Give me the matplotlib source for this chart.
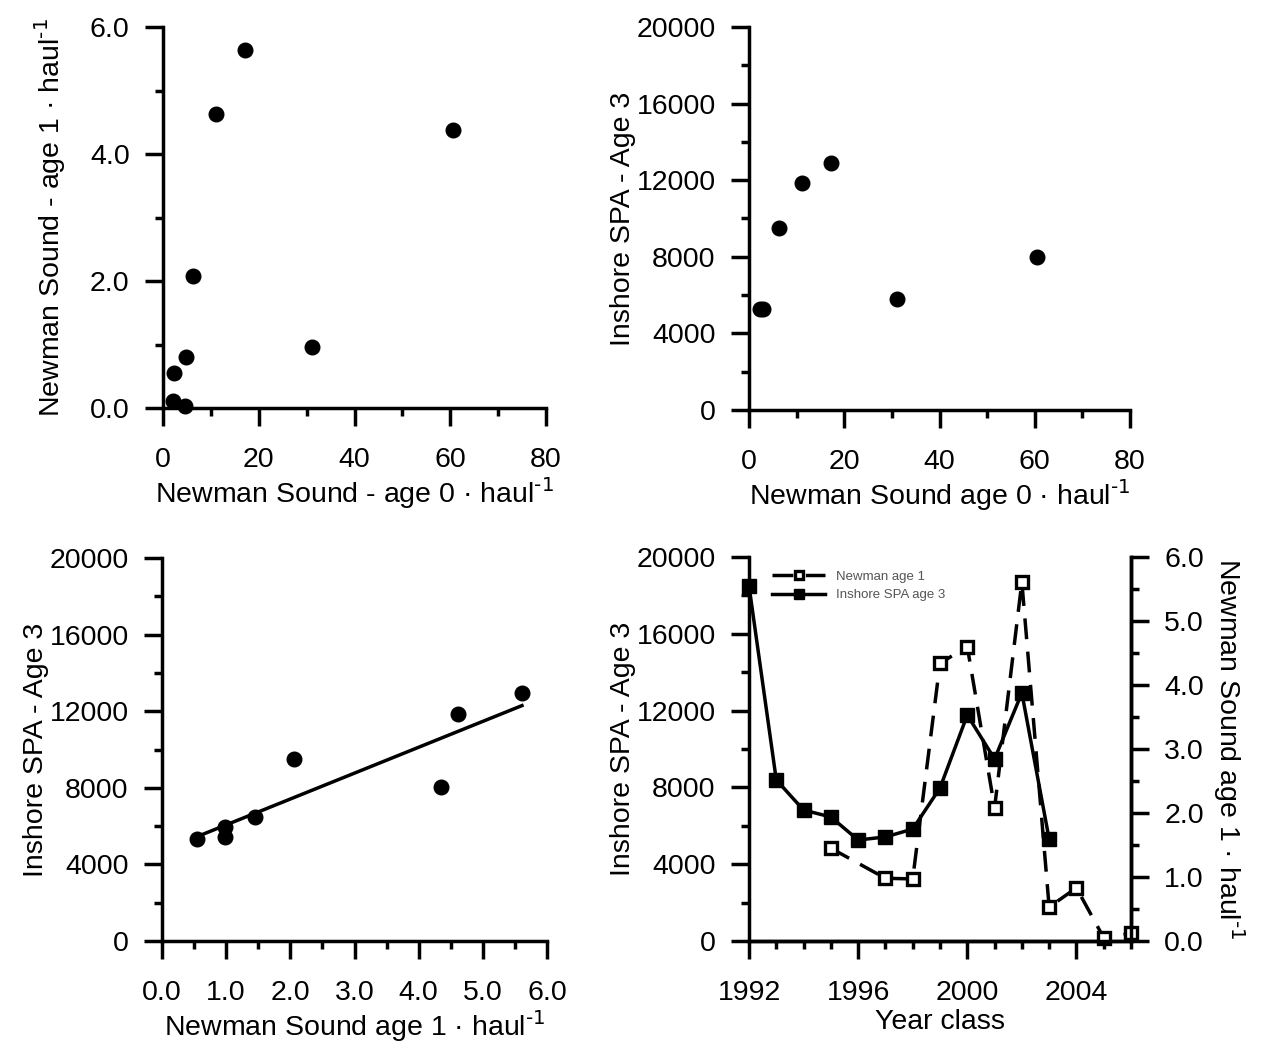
import matplotlib
matplotlib.use('Agg')
import matplotlib.pyplot as plt
import numpy as np
from matplotlib.ticker import MultipleLocator, FormatStrFormatter

plt.rcParams['font.family'] = ['Liberation Sans', 'DejaVu Sans']
plt.rcParams['mathtext.default'] = 'regular'

# 左上：age 0 与 age 1
p1_age0 = [17.1, 11.1, 60.5, 6.3, 31.1, 4.8, 2.3, 2.1, 4.6]
p1_age1 = [5.64, 4.63, 4.38, 2.08, 0.96, 0.80, 0.55, 0.11, 0.03]

# 右上：age 0 与 SPA age 3
p2_age0 = [2.3, 3.0, 6.3, 11.1, 17.2, 31.1, 60.5]
p2_spa = [5270, 5270, 9500, 11850, 12900, 5800, 7990]

# 左下：age 1 与 SPA age 3
p3_age1 = [0.55, 0.98, 0.98, 1.45, 2.06, 4.35, 4.61, 5.61]
p3_spa = [5310, 5940, 5420, 6460, 9530, 8020, 11870, 12970]

# 右下：时间序列
spa_years = list(range(1992, 2004))
spa_age3 = [18500, 8390, 6820, 6460, 5260, 5420, 5830, 7970, 11770, 9480, 12920, 5310]
newman_years = [1995, 1997, 1998, 1999, 2000, 2001, 2002, 2003, 2004, 2005, 2006]
newman_age1 = [1.45, 0.98, 0.97, 4.34, 4.60, 2.08, 5.61, 0.53, 0.83, 0.05, 0.12]

FS = 20.5
LW = 2.5
W, H = 1267, 1049
HAUL = 'haul$^{\\text{-1}}$'


def box(l, r, t, b):
    return [l / W, 1 - b / H, (r - l) / W, (b - t) / H]


def style(ax, right=False):
    ax.spines['top'].set_visible(False)
    if not right:
        ax.spines['right'].set_visible(False)
    for s in ax.spines.values():
        s.set_linewidth(LW)
    ax.tick_params(which='major', direction='out', length=13, width=LW, labelsize=FS, pad=11)
    ax.tick_params(which='minor', direction='out', length=6, width=LW)
    ax.tick_params(axis='x', which='major', pad=15)


fig = plt.figure(figsize=(12.67, 10.49), dpi=100)

# 面板 1
ax1 = fig.add_axes(box(163, 546, 27, 408))
ax1.plot(p1_age0, p1_age1, 'o', color='black', ms=10.5, clip_on=False)
ax1.set_xlim(0, 80)
ax1.set_ylim(0, 6)
ax1.xaxis.set_major_locator(MultipleLocator(20))
ax1.xaxis.set_minor_locator(MultipleLocator(10))
ax1.yaxis.set_major_locator(MultipleLocator(2))
ax1.yaxis.set_minor_locator(MultipleLocator(1))
ax1.yaxis.set_major_formatter(FormatStrFormatter('%.1f'))
style(ax1)
ax1.set_xlabel('Newman Sound - age 0 · ' + HAUL, fontsize=FS, labelpad=2)
ax1.set_ylabel('Newman Sound - age 1 · ' + HAUL, fontsize=FS, labelpad=16)

# 面板 2
ax2 = fig.add_axes(box(749, 1130, 27, 410))
ax2.plot(p2_age0, p2_spa, 'o', color='black', ms=10.5, clip_on=False)
ax2.set_xlim(0, 80)
ax2.set_ylim(0, 20000)
ax2.xaxis.set_major_locator(MultipleLocator(20))
ax2.xaxis.set_minor_locator(MultipleLocator(10))
ax2.yaxis.set_major_locator(MultipleLocator(4000))
ax2.yaxis.set_minor_locator(MultipleLocator(2000))
style(ax2)
ax2.set_xlabel('Newman Sound age 0 · ' + HAUL, fontsize=FS, labelpad=2)
ax2.set_ylabel('Inshore SPA - Age 3', fontsize=FS, labelpad=0)

# 面板 3
ax3 = fig.add_axes(box(162, 547, 558, 941))
ax3.plot(p3_age1, p3_spa, 'o', color='black', ms=10.5, clip_on=False)
k, b = np.polyfit(p3_age1, p3_spa, 1)
xs = np.array([min(p3_age1), max(p3_age1)])
ax3.plot(xs, k * xs + b, '-', color='black', lw=LW)
ax3.set_xlim(0, 6)
ax3.set_ylim(0, 20000)
ax3.xaxis.set_major_locator(MultipleLocator(1))
ax3.xaxis.set_minor_locator(MultipleLocator(0.5))
ax3.xaxis.set_major_formatter(FormatStrFormatter('%.1f'))
ax3.yaxis.set_major_locator(MultipleLocator(4000))
ax3.yaxis.set_minor_locator(MultipleLocator(2000))
style(ax3)
ax3.set_xlabel('Newman Sound age 1 · ' + HAUL, fontsize=FS, labelpad=2)
ax3.set_ylabel('Inshore SPA - Age 3', fontsize=FS, labelpad=0)

# 面板 4
ax4 = fig.add_axes(box(749, 1131, 557, 941))
l2, = ax4.plot(spa_years, spa_age3, '-s', color='black', lw=LW, ms=10,
               clip_on=False, label='Inshore SPA age 3')
ax4.set_xlim(1992, 2006)
ax4.set_ylim(0, 20000)
ax4.xaxis.set_major_locator(MultipleLocator(4))
ax4.xaxis.set_minor_locator(MultipleLocator(1))
ax4.yaxis.set_major_locator(MultipleLocator(4000))
ax4.yaxis.set_minor_locator(MultipleLocator(2000))
style(ax4, right=True)
ax4.set_xlabel('Year class', fontsize=FS, labelpad=2)
ax4.set_ylabel('Inshore SPA - Age 3', fontsize=FS, labelpad=0)

ax5 = ax4.twinx()
l1, = ax5.plot(newman_years, newman_age1, 's', ls=(0, (6, 3.6)), color='black', lw=LW,
               ms=8.5, mfc='white', mew=2.4, clip_on=False, label='Newman age 1')
ax5.set_ylim(0, 6)
ax5.yaxis.set_major_locator(MultipleLocator(1))
ax5.yaxis.set_minor_locator(MultipleLocator(0.5))
ax5.yaxis.set_major_formatter(FormatStrFormatter('%.1f'))
ax5.spines['top'].set_visible(False)
ax5.spines['left'].set_visible(False)
for s in ax5.spines.values():
    s.set_linewidth(LW)
ax5.tick_params(which='major', direction='out', length=13, width=LW, labelsize=FS, pad=11)
ax5.tick_params(which='minor', direction='out', length=6, width=LW)
ax5.set_ylabel('Newman Sound age 1 · ' + HAUL, fontsize=FS, rotation=270, labelpad=30)

leg = ax5.legend(handles=[l1, l2], loc='upper left', bbox_to_anchor=(0.03, 0.995),
                 frameon=False, fontsize=9.5, handlelength=4.0, handletextpad=0.8,
                 labelspacing=0.45, markerscale=0.75)
for t in leg.get_texts():
    t.set_color('#555555')

fig.savefig('out.png', dpi=100)
